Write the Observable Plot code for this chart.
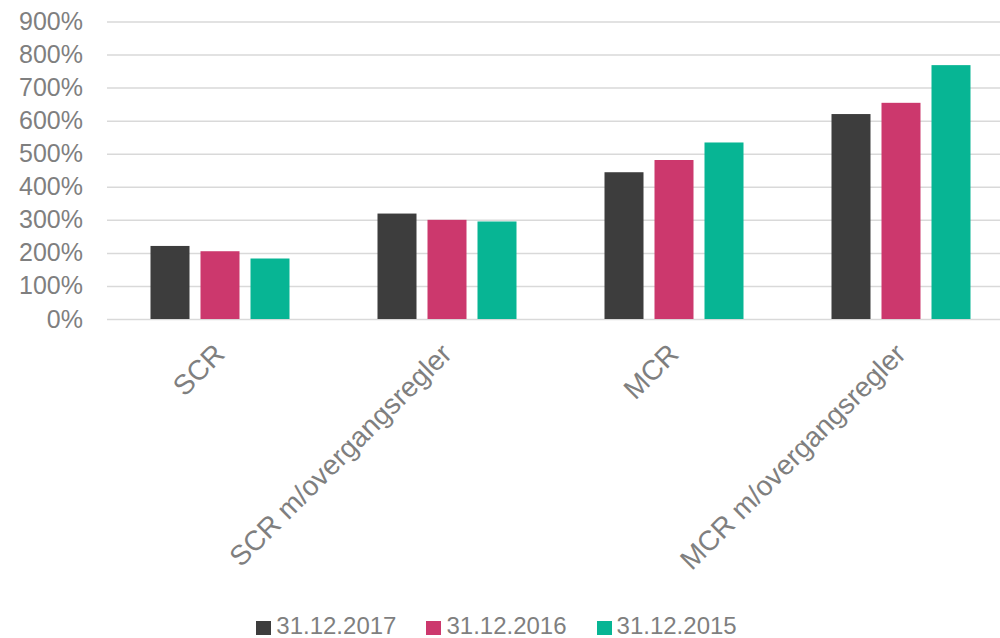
<!DOCTYPE html>
<html>
<head>
<meta charset="utf-8">
<script src="https://cdn.jsdelivr.net/npm/d3@7"></script>
<script src="https://cdn.jsdelivr.net/npm/@observablehq/plot@0.6"></script>
<style>
  body { margin: 0; background: #fff; font-family: "Liberation Sans", Arial, sans-serif; }
  #chart { position: relative; width: 1000px; height: 638px; overflow: hidden; }
  #legend { position: absolute; left: 0; top: 614px; width: 993px; padding-right: 7px; height: 24px; line-height: 24px; display: flex; justify-content: center; align-items: center; gap: 30px; font-size: 24px; color: #7f7f7f; }
  .item { display: flex; align-items: center; gap: 5px; }
  .sw { width: 15px; height: 14px; display: inline-block; margin-top: 3px; }
</style>
</head>
<body>
<div id="chart"></div>
<script>
const categories = ["SCR", "SCR m/overgangsregler", "MCR", "MCR m/overgangsregler"];
const series = ["31.12.2017", "31.12.2016", "31.12.2015"];
const v2017 = [221, 319, 444, 620];
const v2016 = [205, 300, 481, 654];
const v2015 = [183, 295, 534, 768];
const colors = ["#3d3d3d", "#cc386d", "#07b594"];
const yTicks = [0, 100, 200, 300, 400, 500, 600, 700, 800, 900];

const seriesValues = [v2017, v2016, v2015];
const data = [];
categories.forEach((c, i) => {
  series.forEach((s, j) => data.push({category: c, series: s, value: seriesValues[j][i]}));
});

const H = 610;
const chart = Plot.plot({
  width: 1000,
  height: H,
  marginLeft: 106.5,
  marginRight: 0,
  marginTop: 21.5,
  marginBottom: H - 319,
  style: {fontFamily: '"Liberation Sans", Arial, sans-serif', fontSize: "24px", color: "#7f7f7f", background: "white"},
  fx: {domain: categories, range: [106.5, 1014.5], padding: 0, label: null},
  x: {domain: series, paddingInner: 0.218, paddingOuter: 0.856, axis: null},
  y: {domain: [0, 900], label: null},
  color: {domain: series, range: colors},
  marks: [
    Plot.gridY(yTicks, {stroke: "#d9d9d9", strokeOpacity: 1, strokeWidth: 1.5}),
    Plot.barY(data, {fx: "category", x: "series", y: "value", fill: "series"}),
    Plot.axisY(yTicks, {tickSize: 0, tickPadding: 24.5, tickFormat: d => d + "%", fontSize: 25, fill: "#7f7f7f", label: null}),
    Plot.axisFx({anchor: "bottom", tickSize: 0, tickRotate: -45, fontSize: 28, fill: "#7f7f7f", label: null, dx: -1, dy: 18})
  ]
});
document.getElementById("chart").appendChild(chart);

const legend = document.createElement("div");
legend.id = "legend";
series.forEach((s, j) => {
  const item = document.createElement("div");
  item.className = "item";
  const sw = document.createElement("span");
  sw.className = "sw";
  sw.style.background = colors[j];
  const t = document.createElement("span");
  t.textContent = s;
  item.appendChild(sw);
  item.appendChild(t);
  legend.appendChild(item);
});
document.getElementById("chart").appendChild(legend);
</script>
</body>
</html>
